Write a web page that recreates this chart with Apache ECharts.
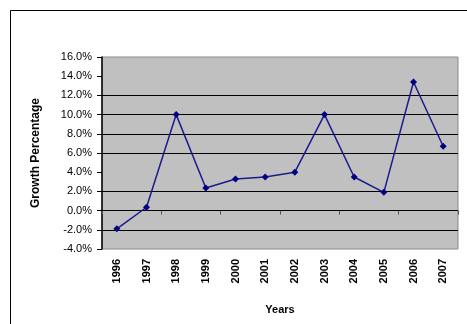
<!DOCTYPE html>
<html>
<head>
<meta charset="utf-8">
<script src="https://cdn.jsdelivr.net/npm/echarts@6/dist/echarts.min.js"></script>
<style>
  html, body { margin: 0; padding: 0; background: #fff; }
  #chart { width: 467px; height: 324px; }
</style>
</head>
<body>
<div id="chart"></div>
<script>
// years on the x axis
const years = ['1996', '1997', '1998', '1999', '2000', '2001', '2002', '2003', '2004', '2005', '2006', '2007'];
// growth percentage per year
const growth = [-1.9, 0.35, 10.0, 2.35, 3.3, 3.5, 4.0, 10.0, 3.5, 1.9, 13.4, 6.7];
// y axis range
const yMin = -4;
const yMax = 16;
const yStep = 2;
// gridlines that are drawn in the reference (4% and 14% are missing there)
const gridValues = [-2, 0, 2, 6, 8, 10, 12];

const chart = echarts.init(document.getElementById('chart'));

const font = 'Arial, Liberation Sans, sans-serif';

const option = {
    animation: false,
    graphic: [
        {
            type: 'rect',
            shape: { x: 10.5, y: 10.5, width: 480, height: 340 },
            style: { fill: 'none', stroke: '#000', lineWidth: 1 }
        }
    ],
    grid: {
        left: 102,
        right: 9,
        top: 57,
        bottom: 75,
        show: true,
        backgroundColor: '#c0c0c0',
        borderColor: '#8a8a8a',
        borderWidth: 1
    },
    xAxis: [
        {
            type: 'category',
            data: years,
            boundaryGap: true,
            position: 'bottom',
            axisLine: { onZero: false, show: false },
            axisTick: { show: false },
            axisLabel: {
                rotate: 90,
                color: '#000',
                fontFamily: font,
                fontSize: 11,
                fontWeight: 'bold',
                margin: 10
            },
            name: 'Years',
            nameLocation: 'middle',
            nameGap: 55,
            nameTextStyle: {
                color: '#000',
                fontFamily: font,
                fontSize: 11,
                fontWeight: 'bold'
            }
        },
        {
            type: 'category',
            data: years,
            boundaryGap: true,
            position: 'bottom',
            axisLine: { onZero: true, show: false },
            axisTick: { show: true, length: 4, lineStyle: { color: '#555' } },
            axisLabel: { show: false }
        }
    ],
    yAxis: {
        type: 'value',
        min: yMin,
        max: yMax,
        interval: yStep,
        axisLine: { show: true, lineStyle: { color: '#000', width: 1.5 } },
        axisTick: { show: true, length: 5, lineStyle: { color: '#000' } },
        axisLabel: {
            color: '#000',
            fontFamily: font,
            fontSize: 11,
            margin: 10,
            formatter: v => v.toFixed(1) + '%'
        },
        splitLine: { show: false },
        name: 'Growth Percentage',
        nameLocation: 'middle',
        nameGap: 60,
        nameTextStyle: {
            color: '#000',
            fontFamily: font,
            fontSize: 12,
            fontWeight: 'bold'
        }
    },
    series: [
        {
            type: 'line',
            data: growth,
            xAxisIndex: 0,
            symbol: 'diamond',
            symbolSize: 7,
            z: 3,
            lineStyle: { color: '#1a1a8c', width: 1.5 },
            itemStyle: { color: '#000080' },
            markLine: {
                silent: true,
                symbol: 'none',
                label: { show: false },
                lineStyle: { color: '#000', type: 'solid', width: 1 },
                z: 1,
                data: gridValues.map(v => ({ yAxis: v }))
            }
        }
    ]
};

chart.setOption(option);
</script>
</body>
</html>
